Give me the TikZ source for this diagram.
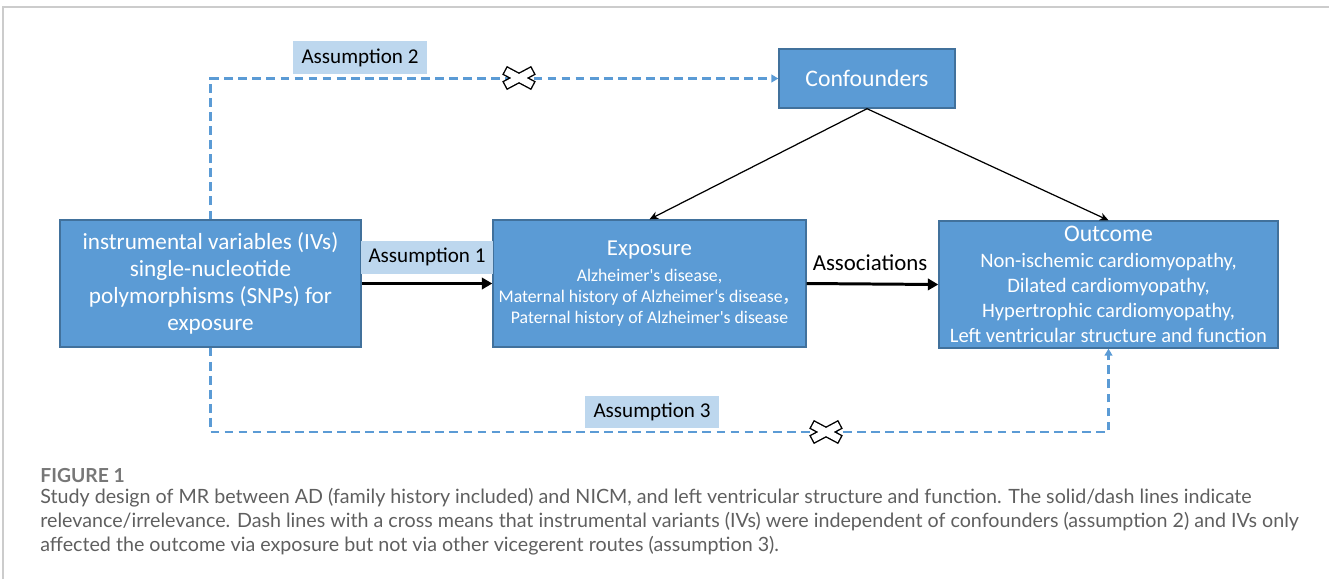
\documentclass[tikz,border=0pt]{standalone}
\usepackage{fontspec}
\setmainfont{Carlito}
\newfontfamily\peufont{Lato}
\newfontfamily\cjk{Noto Sans CJK SC}
\usetikzlibrary{arrows.meta,positioning}

\definecolor{boxblue}{HTML}{5B9BD5}
\definecolor{boxedge}{HTML}{41719C}
\definecolor{lblblue}{HTML}{BDD7EE}
\definecolor{capgray}{HTML}{5F5F5F}

\tikzset{
    caixa/.style={draw=boxedge, fill=boxblue, text=white, line width=0.8pt, inner sep=0pt, align=center},
    etiqueta/.style={fill=lblblue, text=black, inner sep=0pt, minimum height=0.66cm, font=\fontsize{12}{14}\selectfont},
    fletxa/.style={line width=1.7pt, -{Triangle[length=6pt,width=6.5pt]}},
    fina/.style={line width=0.7pt, -{Stealth[length=5pt,width=4.5pt]}},
    puntejada/.style={draw=boxblue, line width=1.3pt, dash pattern=on 5pt off 3pt, -{Triangle[length=4pt,width=4.5pt]}},
    creu/.pic={
        \draw[line width=1.6pt, rotate=28] (-15,-3.5) rectangle (15,3.5);
        \draw[line width=1.6pt, rotate=-28] (-15,-3.5) rectangle (15,3.5);
        \fill[white, rotate=28] (-15,-3.5) rectangle (15,3.5);
        \fill[white, rotate=-28] (-15,-3.5) rectangle (15,3.5);
    }
}

\begin{document}
\begin{tikzpicture}[x=0.02cm, y=-0.02cm]
    % MARC
    \useasboundingbox (0,0) rectangle (1329,579);
    \draw[black!20, line width=1pt] (3,579) -- (3,7) -- (1329,7);

    % CAIXES
    \node[caixa, minimum width=6.02cm, minimum height=2.54cm, font=\fontsize{13.2}{15.4}\selectfont] (ivs) at (210.5,283.5)
        {instrumental variables (IVs)\\single-nucleotide\\polymorphisms (SNPs) for\\exposure};
    \node[caixa, minimum width=6.26cm, minimum height=2.54cm, font=\fontsize{10.1}{12}\selectfont] (expo) at (649.5,283.5)
        {{\fontsize{13}{15}\selectfont Exposure}\\[2.5pt]Alzheimer\textquotesingle s disease,\\Maternal history of Alzheimer‘s disease{\cjk ，}\\Paternal history of Alzheimer\textquotesingle s disease};
    \node[caixa, minimum width=6.78cm, minimum height=2.54cm, font=\fontsize{11.7}{14.3}\selectfont] (outc) at (1108.5,284.5)
        {{\fontsize{13.5}{15}\selectfont Outcome}\\Non-ischemic cardiomyopathy,\\Dilated cardiomyopathy,\\Hypertrophic cardiomyopathy,\\Left ventricular structure and function};
    \node[caixa, minimum width=3.52cm, minimum height=1.18cm, font=\fontsize{13.5}{16}\selectfont] (conf) at (867,78.5) {Confounders};

    % ETIQUETES
    \node[etiqueta, minimum width=2.68cm] (hip2) at (360,57.5) {Assumption 2};
    \node[etiqueta, minimum width=2.64cm] (hip1) at (427,257) {Assumption 1};
    \node[etiqueta, minimum width=2.68cm, minimum height=0.64cm] (hip3) at (652,412) {Assumption 3};
    \node[font=\fontsize{13}{15}\selectfont] (assoc) at (870,263) {Associations};

    % FLETXES
    \draw[fletxa] (ivs.east) -- (expo.west);
    \draw[fletxa] (expo.east) -- (outc.west);
    \draw[fina] (conf.south) -- (expo.north);
    \draw[fina] (conf.south) -- (outc.north);

    % LINIES DISCONTINUES
    \coordinate (baix) at (660,432);
    \draw[puntejada] (ivs.north) |- (conf.west);
    \draw[puntejada] (ivs.south) |- (baix) -| (outc.south);
    \pic at (519,78) {creu};
    \pic at (826,432) {creu};

    % PEU DE FIGURA
    \node[anchor=base west, inner sep=0pt, text=capgray!85, font=\peufont\bfseries\fontsize{11}{13}\selectfont] (figura) at (40,482) {FIGURE 1};
    \node[anchor=base west, inner sep=0pt, text=capgray, font=\peufont\fontsize{11.2}{13.6}\selectfont] (peu1) at (40,503)
        {Study design of MR between AD (family history included) and NICM, and left ventricular structure and function. The solid/dash lines indicate};
    \node[anchor=base west, inner sep=0pt, text=capgray, font=\peufont\fontsize{11.2}{13.6}\selectfont] (peu2) at (40,527)
        {relevance/irrelevance. Dash lines with a cross means that instrumental variants (IVs) were independent of confounders (assumption 2) and IVs only};
    \node[anchor=base west, inner sep=0pt, text=capgray, font=\peufont\fontsize{11.2}{13.6}\selectfont] (peu3) at (40,551)
        {affected the outcome via exposure but not via other vicegerent routes (assumption 3).};
\end{tikzpicture}
\end{document}
